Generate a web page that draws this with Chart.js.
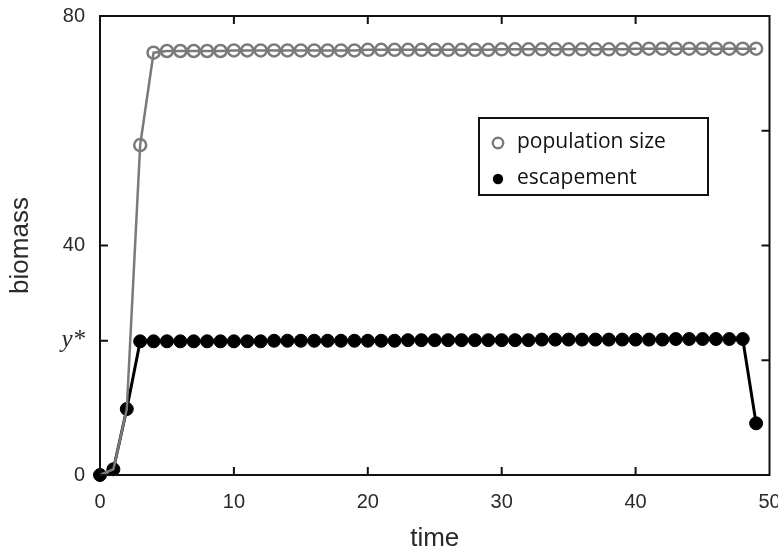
<!DOCTYPE html>
<html>
<head>
<meta charset="utf-8">
<script src="https://cdn.jsdelivr.net/npm/chart.js@4.4.1/dist/chart.umd.min.js"></script>
<style>
  html, body { margin: 0; padding: 0; background: #fff; }
</style>
</head>
<body>
<canvas id="biomassChart" width="778" height="554"></canvas>
<script>
// --- DATA ---
const time = [0, 1, 2, 3, 4, 5, 6, 7, 8, 9, 10, 11, 12, 13, 14, 15, 16, 17, 18, 19,
              20, 21, 22, 23, 24, 25, 26, 27, 28, 29, 30, 31, 32, 33, 34, 35, 36, 37, 38, 39,
              40, 41, 42, 43, 44, 45, 46, 47, 48, 49];
const population = [0, 1, 11.5, 57.5, 73.6,
                    73.9, 73.9, 73.9, 73.9, 73.9,
                    74.0, 74.0, 74.0, 74.0, 74.0, 74.0, 74.0, 74.0, 74.0, 74.0,
                    74.1, 74.1, 74.1, 74.1, 74.1, 74.1, 74.1, 74.1, 74.1, 74.1,
                    74.2, 74.2, 74.2, 74.2, 74.2, 74.2, 74.2, 74.2, 74.2, 74.2,
                    74.3, 74.3, 74.3, 74.3, 74.3, 74.3, 74.3, 74.3, 74.3, 74.3];
const escapement = [0, 1, 11.5,
                    23.3, 23.3, 23.3, 23.3, 23.3, 23.3, 23.3, 23.3, 23.3, 23.3,
                    23.4, 23.4, 23.4, 23.4, 23.4, 23.4, 23.4, 23.4, 23.4, 23.4,
                    23.5, 23.5, 23.5, 23.5, 23.5, 23.5, 23.5, 23.5, 23.5, 23.5,
                    23.6, 23.6, 23.6, 23.6, 23.6, 23.6, 23.6, 23.6, 23.6, 23.6,
                    23.7, 23.7, 23.7, 23.7, 23.7, 23.7,
                    9];
const yStar = 23.4;
const yTicksLeft = [0, yStar, 40, 80];
const yTicksRight = [20, 40, 60];
const xTicksInner = [10, 20, 30, 40];

const GREY = '#7a7a7a';
const TEXT = '#2a2a2a';

// --- FRAME, INWARD TICKS AND LEGEND BOX ---
const framePlugin = {
    id: 'frame',
    afterDraw(chart) {
        const ctx = chart.ctx;
        const a = chart.chartArea;
        const xs = chart.scales.x;
        const ys = chart.scales.y;
        const len = 8;

        ctx.save();
        ctx.strokeStyle = '#111';
        ctx.lineWidth = 2;
        ctx.strokeRect(a.left, a.top, a.right - a.left, a.bottom - a.top);

        ctx.beginPath();
        xTicksInner.forEach(v => {
            const px = xs.getPixelForValue(v);
            ctx.moveTo(px, a.bottom); ctx.lineTo(px, a.bottom - len);
            ctx.moveTo(px, a.top); ctx.lineTo(px, a.top + len);
        });
        yTicksLeft.forEach(v => {
            const py = ys.getPixelForValue(v);
            ctx.moveTo(a.left, py); ctx.lineTo(a.left + len, py);
        });
        yTicksRight.forEach(v => {
            const py = ys.getPixelForValue(v);
            ctx.moveTo(a.right, py); ctx.lineTo(a.right - len, py);
        });
        ctx.stroke();

        // legend
        const box = { x: 479, y: 118, w: 229, h: 77 };
        ctx.fillStyle = '#fff';
        ctx.fillRect(box.x, box.y, box.w, box.h);
        ctx.strokeRect(box.x, box.y, box.w, box.h);
        ctx.font = '21px "Open Sans"';
        ctx.textBaseline = 'middle';
        chart.data.datasets.forEach((ds, i) => {
            const cy = box.y + 25 + i * 36;
            const cx = box.x + 19;
            ctx.beginPath();
            ctx.arc(cx, cy, 5.2, 0, Math.PI * 2);
            if (ds.legendFill) {
                ctx.fillStyle = ds.pointBackgroundColor;
                ctx.fill();
            } else {
                ctx.lineWidth = 2.4;
                ctx.strokeStyle = ds.pointBorderColor;
                ctx.stroke();
            }
            ctx.fillStyle = '#111';
            ctx.fillText(ds.label, box.x + 38, cy - 1);
        });
        ctx.restore();
    }
};

const ctx = document.getElementById('biomassChart').getContext('2d');
new Chart(ctx, {
    type: 'line',
    data: {
        datasets: [
            {
                label: 'population size',
                data: time.map((t, i) => ({ x: t, y: population[i] })),
                borderColor: GREY,
                borderWidth: 2.5,
                pointRadius: c => (population[c.dataIndex] === escapement[c.dataIndex] ? 0 : 6),
                pointBorderColor: GREY,
                pointBackgroundColor: 'rgba(0,0,0,0)',
                pointBorderWidth: 2.5,
                tension: 0,
                clip: false
            },
            {
                label: 'escapement',
                data: time.map((t, i) => ({ x: t, y: escapement[i] })),
                borderColor: '#000',
                borderWidth: 3,
                pointRadius: 6.5,
                pointBorderColor: '#000',
                pointBackgroundColor: '#000',
                pointBorderWidth: 1,
                legendFill: true,
                tension: 0,
                clip: false
            }
        ]
    },
    options: {
        responsive: false,
        animation: false,
        layout: { padding: { top: 16, right: 7, left: 0, bottom: 0 } },
        plugins: {
            legend: { display: false },
            tooltip: { enabled: false }
        },
        scales: {
            x: {
                type: 'linear',
                min: 0,
                max: 50,
                grid: { display: false, drawTicks: false },
                border: { display: false },
                ticks: {
                    stepSize: 10,
                    padding: 15,
                    color: TEXT,
                    font: { family: 'Liberation Sans', size: 20 }
                },
                title: {
                    display: true,
                    text: 'time',
                    color: TEXT,
                    font: { family: 'Liberation Sans', size: 26 },
                    padding: { top: 0, bottom: 0 }
                },
                afterFit: s => {
                    s.height = 79;
                    s.paddingLeft = 0;
                    s.paddingRight = 0;
                }
            },
            y: {
                min: 0,
                max: 80,
                grid: { display: false, drawTicks: false },
                border: { display: false },
                afterBuildTicks: s => { s.ticks = yTicksLeft.map(v => ({ value: v })); },
                ticks: {
                    padding: 15,
                    color: TEXT,
                    callback: v => (v === yStar ? 'y*' : v),
                    font: c => (c.tick && c.tick.value === yStar
                        ? { family: 'Liberation Serif', style: 'italic', size: 25 }
                        : { family: 'Liberation Sans', size: 20 })
                },
                title: {
                    display: true,
                    text: 'biomass',
                    color: TEXT,
                    font: { family: 'Liberation Sans', size: 26 },
                    padding: { top: 5, bottom: 0 }
                },
                afterFit: s => {
                    s.width = 100;
                    s.paddingTop = 0;
                    s.paddingBottom = 0;
                }
            }
        }
    },
    plugins: [framePlugin]
});
</script>
</body>
</html>
